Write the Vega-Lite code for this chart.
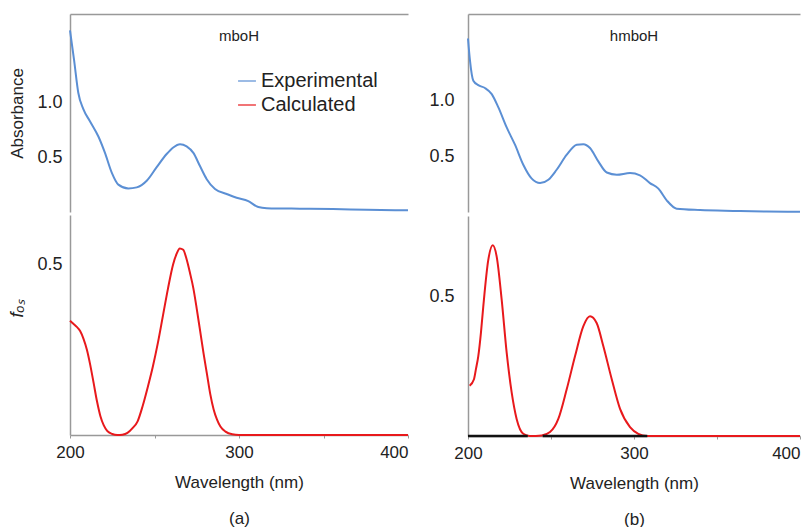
{
  "$schema": "https://vega.github.io/schema/vega-lite/v6.json",
  "padding": {"left": 8, "top": 14, "right": 0, "bottom": 0},
  "background": "white",
  "config": {
    "font": "Liberation Sans",
    "view": {"stroke": null},
    "axis": {"labelFont": "Liberation Sans", "titleFont": "Liberation Sans", "labelColor": "#222", "titleColor": "#222", "domainColor": "#999", "tickColor": "#999", "grid": false, "titleFontWeight": "normal"},
    "legend": {"padding": 0}
  },
  "datasets": {
    "expA": [
      {"wl": 200, "val": 1.66, "series": "Experimental"},
      {"wl": 202.4, "val": 1.39, "series": "Experimental"},
      {"wl": 204.9, "val": 1.09, "series": "Experimental"},
      {"wl": 207.9, "val": 0.94, "series": "Experimental"},
      {"wl": 211.8, "val": 0.83, "series": "Experimental"},
      {"wl": 216.8, "val": 0.69, "series": "Experimental"},
      {"wl": 220.7, "val": 0.54, "series": "Experimental"},
      {"wl": 224.7, "val": 0.36, "series": "Experimental"},
      {"wl": 228.6, "val": 0.25, "series": "Experimental"},
      {"wl": 234.5, "val": 0.215, "series": "Experimental"},
      {"wl": 239.5, "val": 0.225, "series": "Experimental"},
      {"wl": 245.4, "val": 0.285, "series": "Experimental"},
      {"wl": 251.3, "val": 0.41, "series": "Experimental"},
      {"wl": 257.2, "val": 0.53, "series": "Experimental"},
      {"wl": 261.1, "val": 0.59, "series": "Experimental"},
      {"wl": 265.1, "val": 0.62, "series": "Experimental"},
      {"wl": 269.0, "val": 0.6, "series": "Experimental"},
      {"wl": 273.0, "val": 0.54, "series": "Experimental"},
      {"wl": 276.9, "val": 0.42, "series": "Experimental"},
      {"wl": 280.9, "val": 0.3, "series": "Experimental"},
      {"wl": 285.8, "val": 0.21, "series": "Experimental"},
      {"wl": 292.7, "val": 0.165, "series": "Experimental"},
      {"wl": 298.6, "val": 0.13, "series": "Experimental"},
      {"wl": 305.5, "val": 0.1, "series": "Experimental"},
      {"wl": 311.4, "val": 0.045, "series": "Experimental"},
      {"wl": 316.4, "val": 0.035, "series": "Experimental"},
      {"wl": 336, "val": 0.03, "series": "Experimental"},
      {"wl": 355.6, "val": 0.027, "series": "Experimental"},
      {"wl": 375.5, "val": 0.02, "series": "Experimental"},
      {"wl": 400, "val": 0.015, "series": "Experimental"}
    ],
    "calcA": [
      {"wl": 200, "val": 0.335}, {"wl": 202, "val": 0.326}, {"wl": 204, "val": 0.317},
      {"wl": 206, "val": 0.305}, {"wl": 208, "val": 0.282}, {"wl": 210, "val": 0.25},
      {"wl": 212, "val": 0.205}, {"wl": 214, "val": 0.152}, {"wl": 216, "val": 0.098},
      {"wl": 218, "val": 0.055}, {"wl": 220, "val": 0.028}, {"wl": 222, "val": 0.012},
      {"wl": 225, "val": 0.003}, {"wl": 228, "val": 0}, {"wl": 231, "val": 0.001},
      {"wl": 234, "val": 0.006}, {"wl": 237, "val": 0.02}, {"wl": 240, "val": 0.04},
      {"wl": 243, "val": 0.085}, {"wl": 246, "val": 0.14}, {"wl": 249, "val": 0.2},
      {"wl": 252, "val": 0.27}, {"wl": 255, "val": 0.35}, {"wl": 258, "val": 0.43},
      {"wl": 261, "val": 0.5}, {"wl": 263, "val": 0.53}, {"wl": 265, "val": 0.547},
      {"wl": 267, "val": 0.543}, {"wl": 269, "val": 0.515}, {"wl": 271, "val": 0.475},
      {"wl": 273, "val": 0.43}, {"wl": 275, "val": 0.37}, {"wl": 277, "val": 0.305},
      {"wl": 279, "val": 0.24}, {"wl": 281, "val": 0.18}, {"wl": 283, "val": 0.12},
      {"wl": 285, "val": 0.075}, {"wl": 287, "val": 0.045}, {"wl": 289, "val": 0.025},
      {"wl": 292, "val": 0.01}, {"wl": 296, "val": 0.002}, {"wl": 300, "val": 0},
      {"wl": 350, "val": 0}, {"wl": 400, "val": 0}
    ],
    "expB": [
      {"wl": 200, "val": 1.56}, {"wl": 201.2, "val": 1.36}, {"wl": 203.2, "val": 1.18},
      {"wl": 206.2, "val": 1.14}, {"wl": 210.2, "val": 1.115}, {"wl": 214.3, "val": 1.06},
      {"wl": 218.3, "val": 0.94}, {"wl": 223.3, "val": 0.76}, {"wl": 228.3, "val": 0.605},
      {"wl": 233.3, "val": 0.425}, {"wl": 238.4, "val": 0.3}, {"wl": 243.4, "val": 0.26},
      {"wl": 248.4, "val": 0.29}, {"wl": 253.4, "val": 0.38}, {"wl": 259.5, "val": 0.515},
      {"wl": 265.5, "val": 0.605}, {"wl": 269.5, "val": 0.61}, {"wl": 273.5, "val": 0.575},
      {"wl": 278.5, "val": 0.455}, {"wl": 283.6, "val": 0.355}, {"wl": 289.6, "val": 0.335},
      {"wl": 297.6, "val": 0.35}, {"wl": 303.6, "val": 0.33}, {"wl": 309.6, "val": 0.26},
      {"wl": 314.7, "val": 0.21}, {"wl": 319.7, "val": 0.105}, {"wl": 325.7, "val": 0.03},
      {"wl": 339.8, "val": 0.018}, {"wl": 359.8, "val": 0.01}, {"wl": 380, "val": 0.004},
      {"wl": 400, "val": 0.002}
    ],
    "calcB": [
      {"wl": 201, "val": 0.18}, {"wl": 203.6, "val": 0.203}, {"wl": 204.8, "val": 0.24},
      {"wl": 206.2, "val": 0.286}, {"wl": 207.8, "val": 0.37}, {"wl": 209.2, "val": 0.463},
      {"wl": 212.2, "val": 0.629}, {"wl": 214.9, "val": 0.682}, {"wl": 217.3, "val": 0.641},
      {"wl": 220.3, "val": 0.487}, {"wl": 223.3, "val": 0.298}, {"wl": 226.3, "val": 0.156},
      {"wl": 229.3, "val": 0.061}, {"wl": 233.3, "val": 0.008}, {"wl": 237.3, "val": 0},
      {"wl": 244.4, "val": 0.002}, {"wl": 249.4, "val": 0.014}, {"wl": 254.4, "val": 0.061},
      {"wl": 259.5, "val": 0.168}, {"wl": 264.5, "val": 0.286}, {"wl": 269.5, "val": 0.393},
      {"wl": 273.5, "val": 0.428}, {"wl": 277.5, "val": 0.404}, {"wl": 281.5, "val": 0.322},
      {"wl": 286.6, "val": 0.203}, {"wl": 291.6, "val": 0.097}, {"wl": 297.6, "val": 0.032},
      {"wl": 302.6, "val": 0.008}, {"wl": 307.7, "val": 0}, {"wl": 350, "val": 0},
      {"wl": 400, "val": 0}
    ],
    "baseB": [
      {"wl": 200, "val": 0, "seg": "a"}, {"wl": 236, "val": 0, "seg": "a"},
      {"wl": 245, "val": 0, "seg": "b"}, {"wl": 308, "val": 0, "seg": "b"}
    ]
  },
  "spacing": 16,
  "resolve": {"legend": {"color": "independent"}},
  "hconcat": [
    {
      "spacing": 0,
      "resolve": {"legend": {"color": "independent"}},
      "vconcat": [
        {
          "width": 338, "height": 198,
          "title": {"text": "mboH", "offset": -30, "fontSize": 15, "fontWeight": "normal", "color": "#222", "font": "Liberation Sans"},
          "layer": [
            {"mark": {"type": "rule", "color": "#d4d4d4", "strokeWidth": 1.5}, "encoding": {"y": {"datum": 0, "type": "quantitative", "scale": {"domain": [0, 1.81], "nice": false}}}},
            {"mark": {"type": "rule", "color": "#999", "strokeWidth": 1.5}, "encoding": {"x": {"datum": 400, "type": "quantitative", "scale": {"domain": [200, 400], "nice": false, "zero": false}}}},
            {
              "data": {"name": "expA"},
              "mark": {"type": "line", "interpolate": "monotone", "strokeWidth": 2},
              "encoding": {
                "x": {"field": "wl", "type": "quantitative", "scale": {"domain": [200, 400], "nice": false, "zero": false},
                      "axis": {"orient": "top", "labels": false, "ticks": false, "title": null, "domain": true, "domainWidth": 1.5}},
                "y": {"field": "val", "type": "quantitative", "scale": {"domain": [0, 1.81], "nice": false},
                      "axis": {"values": [0.5, 1.0], "format": ".1f", "ticks": false, "labelFontSize": 18, "labelPadding": 8, "title": "Absorbance", "titleFontSize": 17, "titlePadding": 10, "domainWidth": 1.5}},
                "color": {"field": "series", "type": "nominal",
                          "scale": {"domain": ["Experimental", "Calculated"], "range": ["#5b8fd4", "#e8191c"]},
                          "legend": {"orient": "none", "legendX": 167, "legendY": 57, "title": null, "symbolType": "stroke", "symbolSize": 320, "symbolStrokeWidth": 2, "symbolOpacity": 0.6, "labelFontSize": 20, "labelColor": "#222", "labelFont": "Liberation Sans", "rowPadding": 4, "labelOffset": 4}}
              }
            }
          ]
        },
        {
          "width": 338, "height": 220,
          "layer": [
            {"mark": {"type": "rule", "color": "#999", "strokeWidth": 1.5}, "encoding": {"x": {"datum": 400, "type": "quantitative", "scale": {"domain": [200, 400], "nice": false, "zero": false}}}},
            {
              "data": {"name": "calcA"},
              "mark": {"type": "line", "interpolate": "monotone", "strokeWidth": 2, "color": "#e8191c"},
              "encoding": {
                "x": {"field": "wl", "type": "quantitative", "scale": {"domain": [200, 400], "nice": false, "zero": false},
                      "axis": {"values": [200, 250, 300, 350, 400], "labelExpr": "datum.value % 100 == 0 ? datum.label : ''", "format": "d", "tickSize": 3, "labelPadding": 6, "labelFontSize": 17, "labelFlush": false,
                               "labelAlign": {"condition": {"test": "datum.value == 400", "value": "right"}, "value": "center"},
                               "title": ["Wavelength (nm)", "(a)"], "titleFontSize": 17, "titleLineHeight": 36, "titlePadding": 14, "domainWidth": 1.5}},
                "y": {"field": "val", "type": "quantitative", "scale": {"domain": [0, 0.645], "nice": false},
                      "axis": {"values": [0.5], "format": ".1f", "ticks": false, "labelFontSize": 18, "labelPadding": 8, "title": "fₒₛ", "titleFontStyle": "italic", "titleFontSize": 18, "titlePadding": 10, "titleY": 93, "domainWidth": 1.5}}
              }
            }
          ]
        }
      ]
    },
    {
      "spacing": 0,
      "vconcat": [
        {
          "width": 332, "height": 198,
          "title": {"text": "hmboH", "offset": -30, "fontSize": 15, "fontWeight": "normal", "color": "#222", "font": "Liberation Sans"},
          "layer": [
            {"mark": {"type": "rule", "color": "#d4d4d4", "strokeWidth": 1.5}, "encoding": {"y": {"datum": 0, "type": "quantitative", "scale": {"domain": [0, 1.78], "nice": false}}}},
            {"mark": {"type": "rule", "color": "#999", "strokeWidth": 1.5}, "encoding": {"x": {"datum": 400, "type": "quantitative", "scale": {"domain": [200, 400], "nice": false, "zero": false}}}},
            {
              "data": {"name": "expB"},
              "mark": {"type": "line", "interpolate": "monotone", "strokeWidth": 2, "color": "#5b8fd4"},
              "encoding": {
                "x": {"field": "wl", "type": "quantitative", "scale": {"domain": [200, 400], "nice": false, "zero": false},
                      "axis": {"orient": "top", "labels": false, "ticks": false, "title": null, "domain": true, "domainWidth": 1.5}},
                "y": {"field": "val", "type": "quantitative", "scale": {"domain": [0, 1.78], "nice": false},
                      "axis": {"values": [0.5, 1.0], "format": ".1f", "ticks": false, "labelFontSize": 18, "labelPadding": 14, "title": null, "domainWidth": 1.5}}
              }
            }
          ]
        },
        {
          "width": 332, "height": 220,
          "layer": [
            {"mark": {"type": "rule", "color": "#999", "strokeWidth": 1.5}, "encoding": {"x": {"datum": 400, "type": "quantitative", "scale": {"domain": [200, 400], "nice": false, "zero": false}}}},
            {
              "data": {"name": "calcB"},
              "mark": {"type": "line", "interpolate": "monotone", "strokeWidth": 2, "color": "#e8191c"},
              "encoding": {
                "x": {"field": "wl", "type": "quantitative", "scale": {"domain": [200, 400], "nice": false, "zero": false},
                      "axis": {"values": [200, 250, 300, 350, 400], "labelExpr": "datum.value % 100 == 0 ? datum.label : ''", "format": "d", "tickSize": 3, "labelPadding": 6, "labelFontSize": 17, "labelFlush": false,
                               "labelAlign": {"condition": {"test": "datum.value == 400", "value": "right"}, "value": "center"},
                               "title": ["Wavelength (nm)", "(b)"], "titleFontSize": 17, "titleLineHeight": 36, "titlePadding": 14, "domainWidth": 1.5}},
                "y": {"field": "val", "type": "quantitative", "scale": {"domain": [0, 0.787], "nice": false},
                      "axis": {"values": [0.5], "format": ".1f", "ticks": false, "labelFontSize": 18, "labelPadding": 14, "title": null, "domainWidth": 1.5}}
              }
            },
            {
              "data": {"name": "baseB"},
              "mark": {"type": "line", "strokeWidth": 2.5, "color": "#111"},
              "encoding": {
                "x": {"field": "wl", "type": "quantitative", "scale": {"domain": [200, 400], "nice": false, "zero": false}},
                "y": {"field": "val", "type": "quantitative", "scale": {"domain": [0, 0.787], "nice": false}},
                "detail": {"field": "seg", "type": "nominal"}
              }
            }
          ]
        }
      ]
    }
  ]
}
